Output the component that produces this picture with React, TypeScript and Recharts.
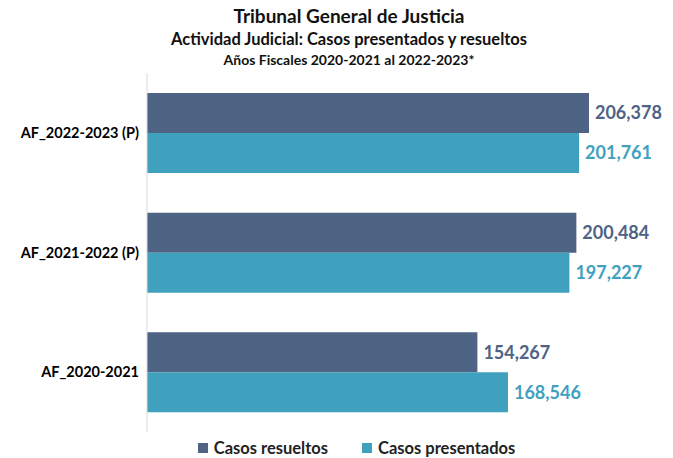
import React from "react";
import { BarChart, Bar, XAxis, YAxis, Legend, LabelList } from "recharts";

const categories = ["AF_2022-2023 (P)", "AF_2021-2022 (P)", "AF_2020-2021"];
const resueltos = [206378, 200484, 154267];
const presentados = [201761, 197227, 168546];

const series = [
  { key: "resueltos", name: "Casos resueltos", color: "#4F6384" },
  { key: "presentados", name: "Casos presentados", color: "#3FA1BE" },
];

const data = categories.map((c, i) => ({
  category: c,
  resueltos: resueltos[i],
  presentados: presentados[i],
}));

const FONT = "Lato, 'Open Sans', sans-serif";
const fmt = (v: any) => Number(v).toLocaleString("en-US");

function LegendContent() {
  return (
    <div
      style={{
        height: 26,
        display: "flex",
        justifyContent: "center",
        alignItems: "flex-end",
        gap: 34,
        fontFamily: FONT,
        fontSize: 16.5,
        fontWeight: 700,
        color: "#222",
        paddingLeft: 52,
      }}
    >
      {series.map((s) => (
        <div key={s.key} style={{ display: "flex", alignItems: "center", gap: 6 }}>
          <span style={{ width: 10, height: 10, background: s.color, display: "inline-block" }} />
          <span>{s.name}</span>
        </div>
      ))}
    </div>
  );
}

export default function App() {
  return (
    <div style={{ position: "absolute", left: 0, top: 0, width: 673, height: 458, background: "#fff" }}>
      <div
        style={{
          position: "absolute",
          top: 6,
          left: 0,
          width: 698,
          textAlign: "center",
          fontFamily: FONT,
          fontWeight: 700,
          color: "#111",
          lineHeight: 1,
        }}
      >
        <div style={{ fontSize: 19, height: 25 }}>Tribunal General de Justicia</div>
        <div style={{ fontSize: 16.5, height: 22 }}>Actividad Judicial: Casos presentados y resueltos</div>
        <div style={{ fontSize: 14 }}>Años Fiscales 2020-2021 al 2022-2023*</div>
      </div>
      <BarChart
        width={673}
        height={458}
        data={data}
        layout="vertical"
        margin={{ top: 73, right: 12, bottom: 0, left: 0 }}
        barGap={0}
        barSize={40}
      >
        <XAxis type="number" domain={[0, 240000]} hide />
        <YAxis
          type="category"
          dataKey="category"
          width={147}
          tickLine={false}
          axisLine={{ stroke: "#d9d9d9" }}
          tick={{ fontSize: 14.5, fontWeight: 700, fill: "#000", fontFamily: FONT }}
        />
        <Legend verticalAlign="bottom" height={26} content={<LegendContent />} />
        {series.map((s) => (
          <Bar key={s.key} dataKey={s.key} name={s.name} fill={s.color} isAnimationActive={false}>
            <LabelList
              dataKey={s.key}
              position="right"
              offset={6}
              formatter={fmt}
              style={{ fill: s.color, fontSize: 18, fontWeight: 700, fontFamily: FONT }}
            />
          </Bar>
        ))}
      </BarChart>
    </div>
  );
}
